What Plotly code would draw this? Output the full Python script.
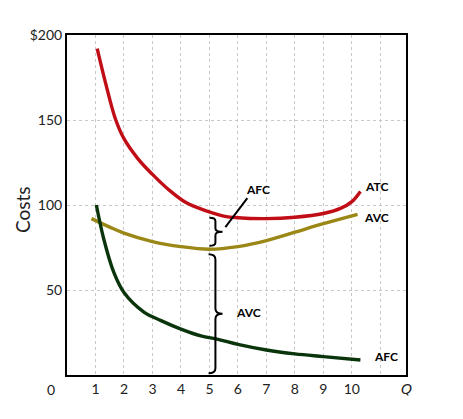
import plotly.graph_objects as go

# curves (Q, cost)
atc_q = [1.06, 1.35, 1.7, 2, 2.5, 3, 3.57, 4.16, 4.86, 5.5, 6, 7, 8, 9, 9.6, 10, 10.3]
atc_c = [192, 172, 150.6, 139, 127, 118, 109, 101.6, 96.7, 93.5, 92.5, 92, 92.8, 95, 98, 102, 108]

avc_q = [0.86, 1.5, 2, 3, 4, 5, 6, 7, 8, 9, 10.2]
avc_c = [92, 87, 83.5, 78.5, 75.5, 74, 75.5, 79, 84, 89, 94.5]

afc_q = [1.03, 1.29, 1.64, 2, 2.7, 3.3, 4, 4.7, 5.3, 6, 7, 8, 9, 10.3]
afc_c = [100, 80, 60.5, 48.5, 37, 32, 27, 23, 21, 18, 14.7, 12.4, 10.8, 8.8]

x_ticks = [1, 2, 3, 4, 5, 6, 7, 8, 9, 10, 11]
x_labels = ["1", "2", "3", "4", "5", "6", "7", "8", "9", "10", ""]
y_ticks = [50, 100, 150, 200]
y_labels = ["50", "100", "150", "$200"]

RED = "#c00d16"
OLIVE = "#9a8716"
GREEN = "#0a350c"
FONT = "Lato"

fig = go.Figure()
for q, c, col in [(atc_q, atc_c, RED), (avc_q, avc_c, OLIVE), (afc_q, afc_c, GREEN)]:
    fig.add_trace(go.Scatter(
        x=q, y=c, mode="lines",
        line=dict(color=col, width=3.4, shape="spline", smoothing=1.0),
        hoverinfo="skip", showlegend=False
    ))


def brace(x0, xc, xt, ytop, ybot, h):
    ym = (ytop + ybot) / 2
    return (f"M {x0},{ytop} Q {xc},{ytop} {xc},{ytop - h} "
            f"L {xc},{ym + h} Q {xc},{ym} {xt},{ym} "
            f"Q {xc},{ym} {xc},{ym - h} "
            f"L {xc},{ybot + h} Q {xc},{ybot} {x0},{ybot}")


fig.add_shape(type="path", xref="x", yref="y",
              path=brace(5.0, 5.21, 5.46, 92.5, 76, 2),
              line=dict(color="black", width=2))
fig.add_shape(type="path", xref="x", yref="y",
              path=brace(4.97, 5.21, 5.46, 71, 1, 3),
              line=dict(color="black", width=2))
fig.add_shape(type="line", xref="x", yref="y",
              x0=5.56, y0=87, x1=6.33, y1=104,
              line=dict(color="black", width=2))

labels = [
    ("ATC", 10.86, 110.6),
    ("AVC", 10.86, 92.4),
    ("AFC", 11.2, 10.6),
    ("AVC", 6.37, 36.5),
    ("AFC", 6.72, 109.4),
]
for txt, x, y in labels:
    fig.add_annotation(x=x, y=y, xref="x", yref="y", text=f"<b>{txt}</b>",
                       showarrow=False, font=dict(family=FONT, size=12, color="black"))

fig.add_annotation(x=0, y=0, xref="paper", yref="paper", text="0",
                   showarrow=False, xanchor="center", yanchor="top",
                   xshift=-16, yshift=-4, font=dict(family=FONT, size=14, color="#222"))
fig.add_annotation(x=1, y=0, xref="paper", yref="paper", text="<i>Q</i>",
                   showarrow=False, xanchor="center", yanchor="top",
                   yshift=-4, font=dict(family="DejaVu Sans", size=14, color="#222"))
fig.add_annotation(x=0, y=0.485, xref="paper", yref="paper", text="Costs",
                   showarrow=False, textangle=-90, xanchor="center", yanchor="middle",
                   xshift=-45, font=dict(family=FONT, size=19, color="#222"))

# the page body has an 8px margin, so the figure is 8px smaller than the window
fig.update_layout(
    width=455, height=411,
    margin=dict(l=59, r=57, t=27, b=44),
    plot_bgcolor="white", paper_bgcolor="white",
    font=dict(family=FONT, size=14, color="#222"),
    xaxis=dict(
        range=[0, 11.9], tickvals=x_ticks, ticktext=x_labels,
        showgrid=True, gridcolor="#c8c8c8", griddash="dot", gridwidth=1,
        showline=True, linecolor="black", linewidth=2, mirror=True,
        zeroline=False, ticks="", fixedrange=True, automargin=False
    ),
    yaxis=dict(
        range=[0, 200], tickvals=y_ticks, ticktext=y_labels,
        showgrid=True, gridcolor="#c8c8c8", griddash="dot", gridwidth=1,
        showline=True, linecolor="black", linewidth=2, mirror=True,
        zeroline=False, ticks="", fixedrange=True, automargin=False
    ),
)

fig.write_html("out.html")
